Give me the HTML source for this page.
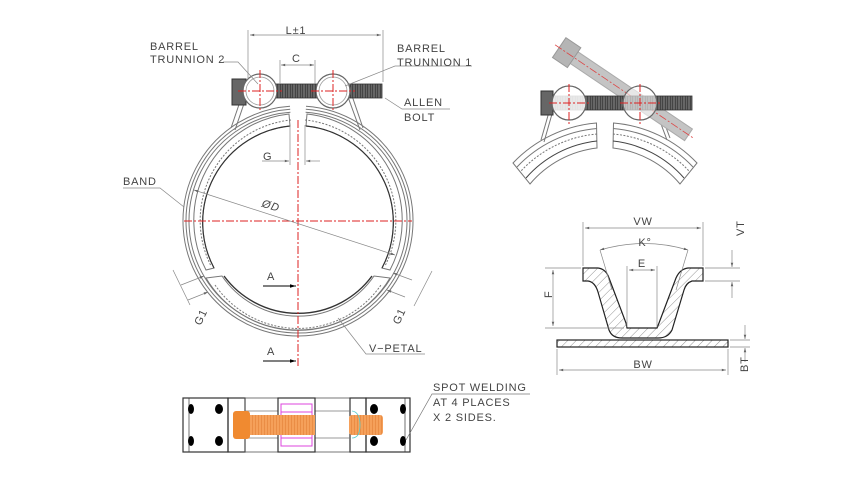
<!DOCTYPE html>
<html><head><meta charset="utf-8"><style>
html,body{margin:0;padding:0;background:#fff}
svg{display:block}
text{font-family:"Liberation Sans",sans-serif;font-size:11px;fill:#444;letter-spacing:0.8px}
</style></head><body>
<svg width="855" height="480" viewBox="0 0 855 480" xmlns="http://www.w3.org/2000/svg">
<defs>
<pattern id="hatch" width="6" height="6" patternUnits="userSpaceOnUse" patternTransform="rotate(45)">
<rect width="6" height="6" fill="#fff"/><line x1="0" y1="0" x2="0" y2="6" stroke="#777" stroke-width="0.8"/>
</pattern>
<pattern id="thread" width="2.5" height="14" patternUnits="userSpaceOnUse">
<rect width="2.5" height="14" fill="#666"/><line x1="0" y1="0" x2="0" y2="14" stroke="#222" stroke-width="1"/>
</pattern>
<pattern id="othread" width="3" height="20" patternUnits="userSpaceOnUse">
<rect width="3" height="20" fill="#f5a05a"/><line x1="0" y1="0" x2="0" y2="20" stroke="#e07a30" stroke-width="1"/>
</pattern>
<marker id="ar" viewBox="0 0 10 10" refX="10" refY="5" markerWidth="8" markerHeight="6" orient="auto-start-reverse"><path d="M0,2 L10,5 L0,8 Z" fill="#666"/></marker>
<marker id="arb" viewBox="0 0 10 10" refX="10" refY="5" markerWidth="10" markerHeight="6" orient="auto"><path d="M0,2 L10,5 L0,8 Z" fill="#000"/></marker>
</defs>

<!-- ===== MAIN VIEW ===== -->
<g fill="none" stroke="#777" stroke-width="1">
<path d="M306,106.3 A115,115 0 1 1 290,106.3"/>
<path d="M305.8,109.3 A112,112 0 1 1 290.2,109.3"/>
<path d="M305.6,112.3 A109,109 0 1 1 290.4,112.3"/>
<path d="M307,114 A107,107 0 0 1 390,270 L382,268 A97,97 0 0 0 306,126 Z" />
<path d="M289,114 A107,107 0 0 0 206,270 L214,268 A97,97 0 0 1 290,126 Z" />
<path d="M305,120 A101,101 0 0 1 385,266" stroke-dasharray="2 1.5"/>
<path d="M291,120 A101,101 0 0 0 211,266" stroke-dasharray="2 1.5"/>
<path d="M206,278 L222,276 A92,92 0 0 0 374,276 L390,278 A107,107 0 0 1 206,278 Z"/>
<path d="M215,285 A101,101 0 0 0 381,285" stroke-dasharray="2 1.5"/>
<path d="M224,276 A92,92 0 0 0 372,276" stroke="#333" stroke-width="1.4"/>
<path d="M306,126 A97,97 0 0 1 382,268" stroke="#333" stroke-width="1.2"/>
<path d="M290,126 A97,97 0 0 0 214,268" stroke="#333" stroke-width="1.2"/>
<path d="M246,84 L231,128"/><path d="M250,86 L235,130"/>
<path d="M348,84 L363,128"/><path d="M344,86 L360,130"/>
</g>
<rect x="245" y="84" width="137" height="14" fill="url(#thread)" stroke="#333" stroke-width="0.8"/>
<rect x="232" y="79" width="14" height="26" fill="#666" stroke="#333"/>
<circle cx="260" cy="91" r="17" fill="#fff" stroke="#666" stroke-width="1.2"/>
<circle cx="260" cy="91" r="14" fill="none" stroke="#999" stroke-width="0.8"/>
<circle cx="333" cy="91" r="17" fill="#fff" stroke="#666" stroke-width="1.2"/>
<circle cx="333" cy="91" r="14" fill="none" stroke="#999" stroke-width="0.8"/>
<g stroke="#d22" stroke-width="1" stroke-dasharray="8 2 2 2">
<line x1="238" y1="91" x2="282" y2="91"/><line x1="260" y1="70" x2="260" y2="112"/>
<line x1="311" y1="91" x2="355" y2="91"/><line x1="333" y1="70" x2="333" y2="112"/>
<line x1="184" y1="221" x2="412" y2="221"/><line x1="298" y1="120" x2="298" y2="368"/>
</g>
<g stroke="#888" stroke-width="0.7" fill="none">
<line x1="248" y1="30" x2="248" y2="80"/><line x1="383" y1="30" x2="383" y2="82"/>
<line x1="250" y1="35" x2="381" y2="35" marker-start="url(#ar)" marker-end="url(#ar)"/>
<line x1="280" y1="60" x2="280" y2="84"/><line x1="315" y1="60" x2="315" y2="84"/>
<line x1="281" y1="65" x2="314" y2="65" marker-start="url(#ar)" marker-end="url(#ar)"/>
<line x1="290" y1="125" x2="290" y2="165"/><line x1="305" y1="125" x2="305" y2="165"/>
<line x1="262" y1="161" x2="289" y2="161" marker-end="url(#ar)"/><line x1="320" y1="161" x2="306" y2="161" marker-end="url(#ar)"/>
<line x1="194" y1="190" x2="395" y2="255" marker-start="url(#ar)" marker-end="url(#ar)"/>
<polyline points="223,62 238,62 258,84"/>
<polyline points="472,66 395,66 345,86"/>
<polyline points="450,109 402,109 385,98"/>
<polyline points="123,188 160,188 184,207"/>
<polyline points="425,354 366,354 338,318"/>
<line x1="173" y1="270" x2="190" y2="305"/><line x1="181" y1="285" x2="204" y2="276" marker-end="url(#ar)"/><line x1="188" y1="300" x2="208" y2="292" marker-end="url(#ar)"/>
<line x1="432" y1="271" x2="414" y2="306"/><line x1="412" y1="280" x2="393" y2="273" marker-end="url(#ar)"/><line x1="405" y1="297" x2="387" y2="290" marker-end="url(#ar)"/>
</g>
<line x1="263" y1="286" x2="296" y2="286" stroke="#000" stroke-width="1" marker-end="url(#arb)"/>
<line x1="263" y1="361" x2="296" y2="361" stroke="#000" stroke-width="1" marker-end="url(#arb)"/>
<text x="267" y="280">A</text><text x="267" y="355">A</text>
<text x="296" y="34" text-anchor="middle">L±1</text>
<text x="292" y="62">C</text>
<text x="263" y="160">G</text>
<text x="262" y="209" transform="rotate(17 270 205)" font-style="italic">ØD</text>
<text x="150" y="50">BARREL</text><text x="150" y="63">TRUNNION  2</text>
<text x="397" y="52">BARREL</text><text x="397" y="66">TRUNNION  1</text>
<text x="404" y="106">ALLEN</text><text x="404" y="121">BOLT</text>
<text x="123" y="185">BAND</text>
<text x="369" y="352">V−PETAL</text>
<text x="193" y="322" transform="rotate(-65 200 318)">G1</text>
<text x="392" y="322" transform="rotate(-65 398 318)">G1</text>

<!-- ===== TOP-RIGHT VIEW ===== -->
<g fill="none" stroke="#777" stroke-width="1">
<path d="M596.5,123 A130,130 0 0 0 513,163 L530,184 A103,103 0 0 1 597,148 Z"/>
<path d="M597,128.5 A124,124 0 0 0 517,167"/>
<path d="M597,134 A118,118 0 0 0 521,171" stroke-dasharray="2 1.5"/>
<path d="M597,141 A110,110 0 0 0 526,178" stroke="#444"/>
<path d="M613.5,123 A130,130 0 0 1 697,163 L680,184 A103,103 0 0 0 613,148 Z"/>
<path d="M613,128.5 A124,124 0 0 1 693,167"/>
<path d="M613,134 A118,118 0 0 1 689,171" stroke-dasharray="2 1.5"/>
<path d="M613,141 A110,110 0 0 1 684,178" stroke="#444"/>
<path d="M553,98 L541,140"/><path d="M556,100 L544,142"/>
<path d="M655,98 L670,138"/><path d="M652,100 L667,140"/>
</g>
<g transform="rotate(34 628 94)">
<rect x="555" y="87" width="146" height="14" fill="#c4c4c4" stroke="#aaa"/>
<rect x="545" y="82" width="18" height="24" fill="#b5b5b5" stroke="#999"/>
<line x1="540" y1="94" x2="708" y2="94" stroke="#d44" stroke-width="0.8" stroke-dasharray="8 2 2 2"/>
</g>
<rect x="552" y="96" width="140" height="14" fill="url(#thread)" stroke="#333" stroke-width="0.8"/>
<rect x="541" y="91" width="12" height="24" fill="#666" stroke="#333"/>
<circle cx="569" cy="103" r="17" fill="#fff" stroke="#666" stroke-width="1.2" fill-opacity="0.85"/>
<circle cx="640" cy="103" r="17" fill="#fff" stroke="#666" stroke-width="1.2" fill-opacity="0.6"/>
<g stroke="#d22" stroke-width="1" stroke-dasharray="8 2 2 2">
<line x1="549" y1="103" x2="590" y2="103"/><line x1="569" y1="84" x2="569" y2="124"/>
<line x1="620" y1="103" x2="661" y2="103"/><line x1="640" y1="84" x2="640" y2="124"/>
</g>

<!-- ===== SECTION ===== -->
<path d="M583,268 L598,268 Q606,269 609,278 L626,323 L627,328 L657,328 L659,323 L676,278 Q680,269 688,268 L703,268 L703,281 L692,281 Q686,283 684,290 L672,330 Q668,338 658,338 L622,338 Q612,338 609,330 L598,292 Q595,282 588,281 L583,281 Z" fill="url(#hatch)" stroke="#222" stroke-width="1.2"/>
<rect x="557" y="340" width="171" height="7" fill="url(#hatch)" stroke="#222" stroke-width="1.2"/>
<g stroke="#888" stroke-width="0.7" fill="none">
<line x1="583" y1="222" x2="583" y2="266"/><line x1="703" y1="222" x2="703" y2="266"/>
<line x1="585" y1="228" x2="701" y2="228" marker-start="url(#ar)" marker-end="url(#ar)"/>
<path d="M600,250 Q644,237 688,250" marker-start="url(#ar)" marker-end="url(#ar)"/>
<line x1="600" y1="250" x2="612" y2="290"/><line x1="688" y1="250" x2="676" y2="290"/>
<line x1="627" y1="266" x2="627" y2="327"/><line x1="657" y1="266" x2="657" y2="327"/>
<line x1="629" y1="270" x2="655" y2="270" marker-start="url(#ar)" marker-end="url(#ar)"/>
<line x1="545" y1="268" x2="581" y2="268"/><line x1="545" y1="328" x2="624" y2="328"/>
<line x1="553" y1="270" x2="553" y2="326" marker-start="url(#ar)" marker-end="url(#ar)"/>
<line x1="705" y1="268" x2="740" y2="268"/><line x1="705" y1="281" x2="740" y2="281"/>
<line x1="732" y1="250" x2="732" y2="267" marker-end="url(#ar)"/><line x1="732" y1="298" x2="732" y2="282" marker-end="url(#ar)"/>
<line x1="557" y1="349" x2="557" y2="375"/><line x1="728" y1="349" x2="728" y2="375"/>
<line x1="559" y1="370" x2="726" y2="370" marker-start="url(#ar)" marker-end="url(#ar)"/>
<line x1="730" y1="340" x2="750" y2="340"/><line x1="730" y1="347" x2="750" y2="347"/>
<line x1="745" y1="325" x2="745" y2="339" marker-end="url(#ar)"/><line x1="745" y1="362" x2="745" y2="348" marker-end="url(#ar)"/>
</g>
<text x="643" y="225" text-anchor="middle">VW</text>
<text x="645" y="246" text-anchor="middle">K°</text>
<text x="642" y="267" text-anchor="middle">E</text>
<text x="643" y="368" text-anchor="middle">BW</text>
<text x="548" y="302" transform="rotate(-90 548 298)">F</text>
<text x="741" y="247" transform="rotate(-90 737 240)">VT</text>
<text x="744" y="384" transform="rotate(-90 740 376)">BT</text>

<!-- ===== BOTTOM VIEW ===== -->
<g fill="none" stroke="#333" stroke-width="1.2">
<rect x="183" y="398" width="45" height="54"/>
<line x1="189" y1="398" x2="189" y2="452" stroke-width="0.7"/>
<rect x="228" y="398" width="17" height="54"/>
<rect x="245" y="398" width="105" height="54" stroke="#555" stroke-width="0.8"/>
<rect x="350" y="398" width="16" height="54"/>
<rect x="366" y="398" width="44" height="54"/>
<line x1="405" y1="398" x2="405" y2="452" stroke-width="0.7"/>
<line x1="245" y1="411" x2="350" y2="411" stroke="#777" stroke-width="0.8"/>
<line x1="245" y1="438" x2="350" y2="438" stroke="#777" stroke-width="0.8"/>
</g>
<rect x="278" y="398" width="37" height="54" fill="#fff" stroke="#333" stroke-width="1.2"/>
<rect x="281" y="404" width="31" height="42" fill="none" stroke="#d4d" stroke-width="1"/>
<line x1="281" y1="412" x2="312" y2="412" stroke="#d4d"/><line x1="281" y1="438" x2="312" y2="438" stroke="#d4d"/>
<g fill="#000">
<ellipse cx="191" cy="409" rx="3" ry="5"/><ellipse cx="219" cy="409" rx="4" ry="5"/>
<ellipse cx="191" cy="441" rx="3" ry="5"/><ellipse cx="219" cy="441" rx="4" ry="5"/>
<ellipse cx="374" cy="409" rx="4" ry="5"/><ellipse cx="403" cy="409" rx="3" ry="5"/>
<ellipse cx="374" cy="441" rx="4" ry="5"/><ellipse cx="403" cy="441" rx="3" ry="5"/>
</g>
<rect x="250" y="415" width="65" height="20" fill="url(#othread)"/>
<rect x="349" y="415" width="34" height="20" rx="3" fill="url(#othread)"/>
<rect x="233" y="411" width="17" height="28" rx="3" fill="#f08a30"/>
<path d="M352,411 Q360,412 360,425 Q360,438 352,438" fill="none" stroke="#5cc" stroke-width="0.8"/>
<polyline points="530,394 432,394 406,440" fill="none" stroke="#777" stroke-width="0.7"/>
<text x="433" y="391">SPOT  WELDING</text>
<text x="433" y="406">AT  4  PLACES</text>
<text x="433" y="421">X  2  SIDES.</text>
</svg>
</body></html>
